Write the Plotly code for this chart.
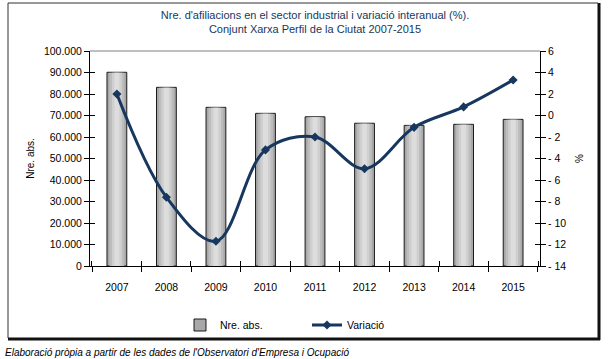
import plotly.graph_objects as go

years = ["2007", "2008", "2009", "2010", "2011", "2012", "2013", "2014", "2015"]
afiliacions = [90100, 83100, 73800, 71000, 69400, 66400, 65400, 65900, 68200]
variacio = [2.0, -7.6, -11.7, -3.2, -2.0, -4.95, -1.1, 0.8, 3.3]

y2_ticks = [6, 4, 2, 0, -2, -4, -6, -8, -10, -12, -14]
y2_labels = [str(v) if v >= 0 else "- " + str(-v) for v in y2_ticks]

W, H = 611, 359
L, R, T, B = 90, 540, 51, 266
FONT = "Liberation Sans"
NAVY = "#17375E"

def px(x):
    return (x - L) / (R - L)

def py(y):
    return (B - y) / (B - T)

fig = go.Figure()
fig.add_trace(go.Bar(
    x=years, y=afiliacions, name="Nre. abs.",
    marker=dict(color="#A8A8A8", line=dict(color="#1a1a1a", width=1)),
    width=0.4, yaxis="y",
))
# shading bands to imitate the cylinder-like gradient of the original bars
for w, c in [(0.3, "#BDBDBD"), (0.2, "#CFCFCF"), (0.1, "#DDDDDD")]:
    fig.add_trace(go.Bar(
        x=years, y=[v - 180 for v in afiliacions], width=w, yaxis="y",
        marker=dict(color=c, line=dict(width=0)),
        showlegend=False, hoverinfo="skip",
    ))
fig.add_trace(go.Scatter(
    x=years, y=variacio, name="Variació", yaxis="y2",
    mode="lines+markers",
    line=dict(color=NAVY, width=3, shape="spline", smoothing=1),
    marker=dict(symbol="diamond", size=7, color=NAVY),
))
# invisible carriers so the inner-tick overlay axes are drawn (crossing ticks)
fig.add_trace(go.Scatter(x=years, y=afiliacions, xaxis="x2", yaxis="y3", mode="markers",
                         marker=dict(opacity=0), showlegend=False, hoverinfo="skip"))
fig.add_trace(go.Scatter(x=years, y=variacio, xaxis="x2", yaxis="y4", mode="markers",
                         marker=dict(opacity=0), showlegend=False, hoverinfo="skip"))

FRAME = "#303030"
shapes = [
    dict(type="line", xref="paper", yref="paper", x0=0, x1=1, y0=1, y1=1,
         line=dict(color="#808080", width=1)),
    dict(type="line", xref="paper", yref="paper", x0=px(8), x1=px(598), y0=py(3), y1=py(3),
         line=dict(color=FRAME, width=1)),
    dict(type="line", xref="paper", yref="paper", x0=px(8), x1=px(8), y0=py(3), y1=py(338),
         line=dict(color=FRAME, width=1)),
    dict(type="line", xref="paper", yref="paper", x0=px(599), x1=px(599), y0=py(3), y1=py(340),
         line=dict(color="#111111", width=3)),
    dict(type="line", xref="paper", yref="paper", x0=px(8), x1=px(600), y0=py(339), y1=py(339),
         line=dict(color="#111111", width=3)),
]

tick_common = dict(ticklen=5, tickcolor="#000000", showgrid=False, zeroline=False)

fig.update_layout(
    width=W, height=H,
    margin=dict(l=L, r=W - R, t=T, b=H - B, autoexpand=False),
    paper_bgcolor="white", plot_bgcolor="white",
    separators=",.",
    barmode="overlay",
    font=dict(family=FONT, size=10.5, color="#000000"),
    title=dict(
        text="Nre. d'afiliacions en el sector industrial i variació interanual (%).<br>Conjunt Xarxa Perfil de la Ciutat 2007-2015",
        x=0.5, xref="paper", xanchor="center", y=1 - 19 / H, yanchor="top",
        font=dict(family=FONT, size=11, color=NAVY),
    ),
    xaxis=dict(
        type="category", showline=True, linecolor="#000000", linewidth=1,
        ticks="outside", tickson="boundaries", **tick_common,
        tickfont=dict(size=10.5), ticklabelstandoff=11, automargin=False,
    ),
    xaxis2=dict(
        type="category", overlaying="x", side="bottom", anchor="y",
        ticks="inside", tickson="boundaries", showticklabels=False, showline=False,
        **tick_common, automargin=False,
    ),
    yaxis=dict(
        range=[0, 100000], dtick=10000, tickformat=",.0f",
        showline=True, linecolor="#000000", linewidth=1,
        ticks="outside", **tick_common, automargin=False,
        title=dict(text="Nre. abs.", font=dict(size=10), standoff=7),
    ),
    yaxis3=dict(
        range=[0, 100000], dtick=10000, overlaying="y", side="left", anchor="x",
        ticks="inside", showticklabels=False, showline=False, **tick_common, automargin=False,
    ),
    yaxis2=dict(
        range=[-14, 6], overlaying="y", side="right", anchor="x",
        tickvals=y2_ticks, ticktext=y2_labels,
        showline=True, linecolor="#000000", linewidth=1,
        ticks="outside", **tick_common, automargin=False,
        title=dict(text="%", font=dict(size=10), standoff=10),
    ),
    yaxis4=dict(
        range=[-14, 6], overlaying="y", side="right", anchor="x",
        tickvals=y2_ticks, ticks="inside", showticklabels=False, showline=False,
        **tick_common, automargin=False,
    ),
    legend=dict(
        orientation="h", x=px(180), xanchor="left", y=py(325), yanchor="middle",
        font=dict(size=10.5), bgcolor="rgba(0,0,0,0)", itemwidth=30,
        entrywidth=82, entrywidthmode="pixels", tracegroupgap=0,
    ),
    shapes=shapes,
    annotations=[dict(
        text="<i>Elaboració pròpia a partir de les dades de l'Observatori d'Empresa i Ocupació</i>",
        xref="paper", yref="paper", x=px(3), y=py(352), xanchor="left", yanchor="middle",
        showarrow=False, font=dict(family=FONT, size=10, color="#000000"),
    )],
)

fig.write_html("out.html", config={"displayModeBar": False},
               post_script="document.body.style.margin='0';document.body.style.overflow='hidden';")
